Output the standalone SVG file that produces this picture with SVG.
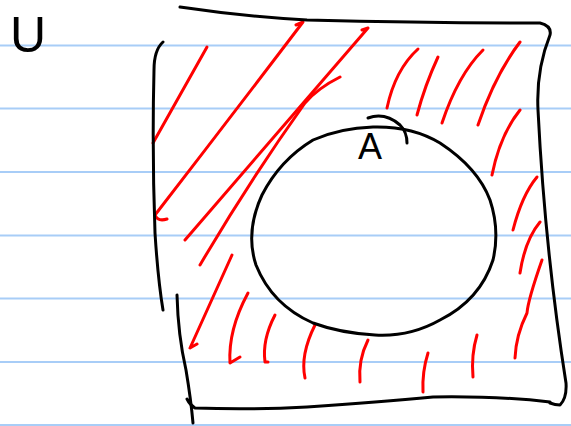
<svg xmlns="http://www.w3.org/2000/svg" width="571" height="426" viewBox="0 0 571 426">
<style>
.rule{stroke:#a8cdf7;stroke-width:2;fill:none}
.ink{stroke:#000;stroke-width:3;fill:none;stroke-linecap:round;stroke-linejoin:round}
.red{stroke:#ff0000;stroke-width:3;fill:none;stroke-linecap:round;stroke-linejoin:round}
.lbl{font-family:"Liberation Sans",Arial,sans-serif;fill:#000}
</style>
<rect width="571" height="426" fill="#fff"/>
<g id="ruling">
<line class="rule" x1="0" y1="45.5" x2="571" y2="45.5"/>
<line class="rule" x1="0" y1="108.5" x2="571" y2="108.5"/>
<line class="rule" x1="0" y1="172" x2="571" y2="172"/>
<line class="rule" x1="0" y1="235.5" x2="571" y2="235.5"/>
<line class="rule" x1="0" y1="298.5" x2="571" y2="298.5"/>
<line class="rule" x1="0" y1="362" x2="571" y2="362"/>
<line class="rule" x1="0" y1="425" x2="571" y2="425"/>
</g>
<g id="hatching">
<path class="red" d="M207,47 L153,143"/>
<path class="red" d="M296,25 L303,22 Q230,118 155,215 Q158,222 167,219"/>
<path class="red" d="M362,30 L368,28 L185,240"/>
<path class="red" d="M340,77 Q318,88 305,103 Q250,180 200,265"/>
<path class="red" d="M232,255 L190,348 L197,344"/>
<path class="red" d="M248,293 Q228,330 230,363 L240,357"/>
<path class="red" d="M275,315 Q262,340 265,362 L268,362"/>
<path class="red" d="M315,325 Q300,355 305,378"/>
<path class="red" d="M368,340 Q358,360 360,382"/>
<path class="red" d="M428,353 Q422,372 423,392"/>
<path class="red" d="M477,335 Q471,355 473,377"/>
<path class="red" d="M542,260 Q528,300 527,313 Q516,335 515,358"/>
<path class="red" d="M540,222 Q525,240 520,273"/>
<path class="red" d="M537,177 Q522,195 513,230"/>
<path class="red" d="M520,110 Q500,135 492,175"/>
<path class="red" d="M520,42 Q495,75 478,125"/>
<path class="red" d="M483,50 Q458,75 442,123"/>
<path class="red" d="M438,57 Q425,85 417,115"/>
<path class="red" d="M418,49 Q395,70 387,108"/>
</g>
<g id="set-U">
<path class="ink" d="M180,7 Q240,16 307,20 Q430,23 540,23 Q552,26 550,35 Q536,70 538,110 Q545,250 566,383 Q567,398 560,405 Q555,405 550,403"/>
<path class="ink" d="M187,399 Q190,405 195,408 Q250,410 307,407 Q380,402 433,397 Q500,396 550,402"/>
<path class="ink" d="M163,42 Q154,50 154,70 Q152,150 155,233 Q158,280 163,310"/>
<path class="ink" d="M177,295 Q178,335 186,370 Q191,400 193,423"/>
<text class="lbl" x="10" y="52" font-size="50">U</text>
</g>
<g id="set-A">
<path class="ink" d="M373,127 Q412,126 440,143 Q478,168 490,200 Q500,230 493,260 Q480,300 440,320 Q410,337 375,335 Q340,333 313,323 Q272,305 256,265 Q245,232 262,195 Q280,160 313,140 Q340,128 373,127 Z"/>
<path class="ink" d="M368,118 Q385,112 400,125 Q407,132 407,143"/>
<text class="lbl" x="358" y="159" font-size="36">A</text>
</g>
</svg>
